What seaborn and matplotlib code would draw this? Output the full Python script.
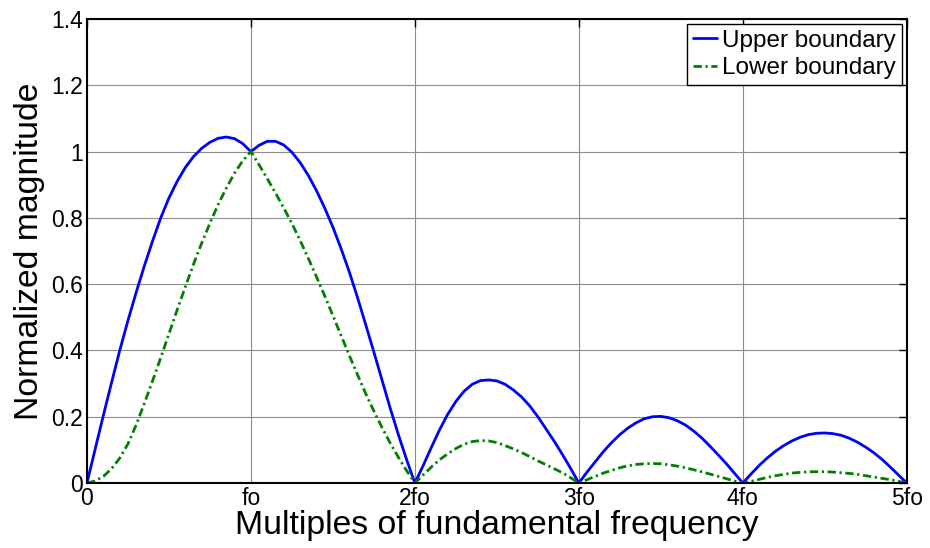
import numpy as np
import pandas as pd
import matplotlib
matplotlib.use("Agg")
import matplotlib.pyplot as plt
import seaborn as sns

# values (x in multiples of fo)
x_main = [0.0, 0.05, 0.1, 0.15, 0.2, 0.25, 0.3, 0.35, 0.4, 0.45, 0.5, 0.55, 0.6, 0.65,
          0.7, 0.75, 0.8, 0.85, 0.9, 0.95, 1.0, 1.05, 1.1, 1.15, 1.2, 1.25, 1.3, 1.35,
          1.4, 1.45, 1.5, 1.55, 1.6, 1.65, 1.7, 1.75, 1.8, 1.85, 1.9, 1.95]
upper_main = [0.0, 0.102, 0.204, 0.303, 0.4, 0.49, 0.575, 0.655, 0.73, 0.8, 0.86,
              0.91, 0.952, 0.985, 1.01, 1.028, 1.04, 1.044, 1.039, 1.024, 1.0, 1.019,
              1.031, 1.031, 1.02, 0.998, 0.967, 0.928, 0.882, 0.83, 0.772, 0.707, 0.637,
              0.56, 0.478, 0.395, 0.31, 0.225, 0.145, 0.07]
lower_main = [0.0, 0.006, 0.02, 0.043, 0.075, 0.118, 0.175, 0.24, 0.308, 0.378, 0.45,
              0.522, 0.592, 0.66, 0.724, 0.784, 0.84, 0.89, 0.935, 0.972, 1.0, 0.96,
              0.918, 0.875, 0.83, 0.783, 0.732, 0.678, 0.622, 0.565, 0.505, 0.445, 0.385,
              0.327, 0.27, 0.217, 0.167, 0.12, 0.077, 0.037]

x_side = [2.0, 2.05, 2.1, 2.15, 2.2, 2.25, 2.3, 2.35, 2.4, 2.45, 2.5, 2.55, 2.6, 2.65,
          2.7, 2.75, 2.8, 2.85, 2.9, 2.95,
          3.0, 3.05, 3.1, 3.15, 3.2, 3.25, 3.3, 3.35, 3.4, 3.45, 3.5, 3.55, 3.6, 3.65,
          3.7, 3.75, 3.8, 3.85, 3.9, 3.95,
          4.0, 4.05, 4.1, 4.15, 4.2, 4.25, 4.3, 4.35, 4.4, 4.45, 4.5, 4.55, 4.6, 4.65,
          4.7, 4.75, 4.8, 4.85, 4.9, 4.95, 5.0]
upper_side = [0.0, 0.052, 0.107, 0.16, 0.207, 0.246, 0.277, 0.298, 0.309, 0.311, 0.308,
              0.298, 0.281, 0.26, 0.233, 0.2, 0.163, 0.126, 0.086, 0.044,
              0.0, 0.033, 0.064, 0.095, 0.122, 0.146, 0.166, 0.182, 0.194, 0.2, 0.201,
              0.197, 0.188, 0.175, 0.157, 0.136, 0.111, 0.085, 0.058, 0.029,
              0.0, 0.027, 0.053, 0.076, 0.096, 0.113, 0.127, 0.138, 0.146, 0.15, 0.151,
              0.149, 0.144, 0.135, 0.123, 0.108, 0.091, 0.071, 0.048, 0.024, 0.0]
lower_side = [0.0, 0.024, 0.048, 0.07, 0.088, 0.104, 0.117, 0.125, 0.128, 0.127, 0.122,
              0.113, 0.103, 0.092, 0.08, 0.067, 0.055, 0.043, 0.031, 0.016,
              0.0, 0.01, 0.02, 0.03, 0.038, 0.046, 0.052, 0.056, 0.058, 0.059, 0.058,
              0.055, 0.051, 0.046, 0.04, 0.034, 0.027, 0.02, 0.013, 0.006,
              0.0, 0.005, 0.011, 0.017, 0.022, 0.026, 0.03, 0.032, 0.034, 0.034, 0.034,
              0.033, 0.031, 0.029, 0.026, 0.022, 0.018, 0.014, 0.01, 0.005, 0.0]

xtick_pos = [0, 1, 2, 3, 4, 5]
xtick_labels = ["0", "fo", "2fo", "3fo", "4fo", "5fo"]
ytick_pos = [0, 0.2, 0.4, 0.6, 0.8, 1.0, 1.2, 1.4]
ytick_labels = ["0", "0.2", "0.4", "0.6", "0.8", "1", "1.2", "1.4"]

df = pd.DataFrame({
    "x": x_main + x_side,
    "upper": upper_main + upper_side,
    "lower": lower_main + lower_side,
})

sns.set_style("white")
plt.rcParams["font.family"] = ["Liberation Sans", "DejaVu Sans"]
plt.rcParams["text.color"] = "black"
plt.rcParams["axes.labelcolor"] = "black"

fig = plt.figure(figsize=(9.3, 5.48), dpi=100)
ax = fig.add_axes([0.0935, 0.1186, 0.8815, 0.8467])

sns.lineplot(data=df, x="x", y="upper", ax=ax, color="#0000ff", lw=2.0,
             label="Upper boundary", estimator=None)
sns.lineplot(data=df, x="x", y="lower", ax=ax, color="#008000", lw=2.0,
             label="Lower boundary", estimator=None)
# matlab-like short dash-dot for the lower boundary
ax.lines[1].set_linestyle((0, (3, 1.3, 0.8, 1.3)))

ax.set_xlim(0, 5)
ax.set_ylim(0, 1.4)
ax.set_xticks(xtick_pos)
ax.set_xticklabels(xtick_labels)
ax.set_yticks(ytick_pos)
ax.set_yticklabels(ytick_labels)
ax.grid(True, color="#8c8c8c", lw=0.8)
ax.tick_params(direction="in", length=6, width=1, top=True, right=True,
               labelsize=16.5, colors="black", pad=3)
for s in ax.spines.values():
    s.set_color("black")
    s.set_linewidth(1.5)

ax.set_xlabel("Multiples of fundamental frequency", fontsize=24.3, labelpad=0)
ax.set_ylabel("Normalized magnitude", fontsize=24.3, labelpad=4)

leg = ax.legend(loc="upper right", fontsize=17.5, frameon=True, fancybox=False,
                framealpha=1, edgecolor="black", handlelength=1.0,
                handletextpad=0.2, borderpad=0.25, labelspacing=0.22,
                borderaxespad=0.2)
leg.get_frame().set_linewidth(1.0)
leg.get_lines()[1].set_linestyle((0, (3, 1.3, 0.8, 1.3)))

fig.savefig("out.png", dpi=100)
